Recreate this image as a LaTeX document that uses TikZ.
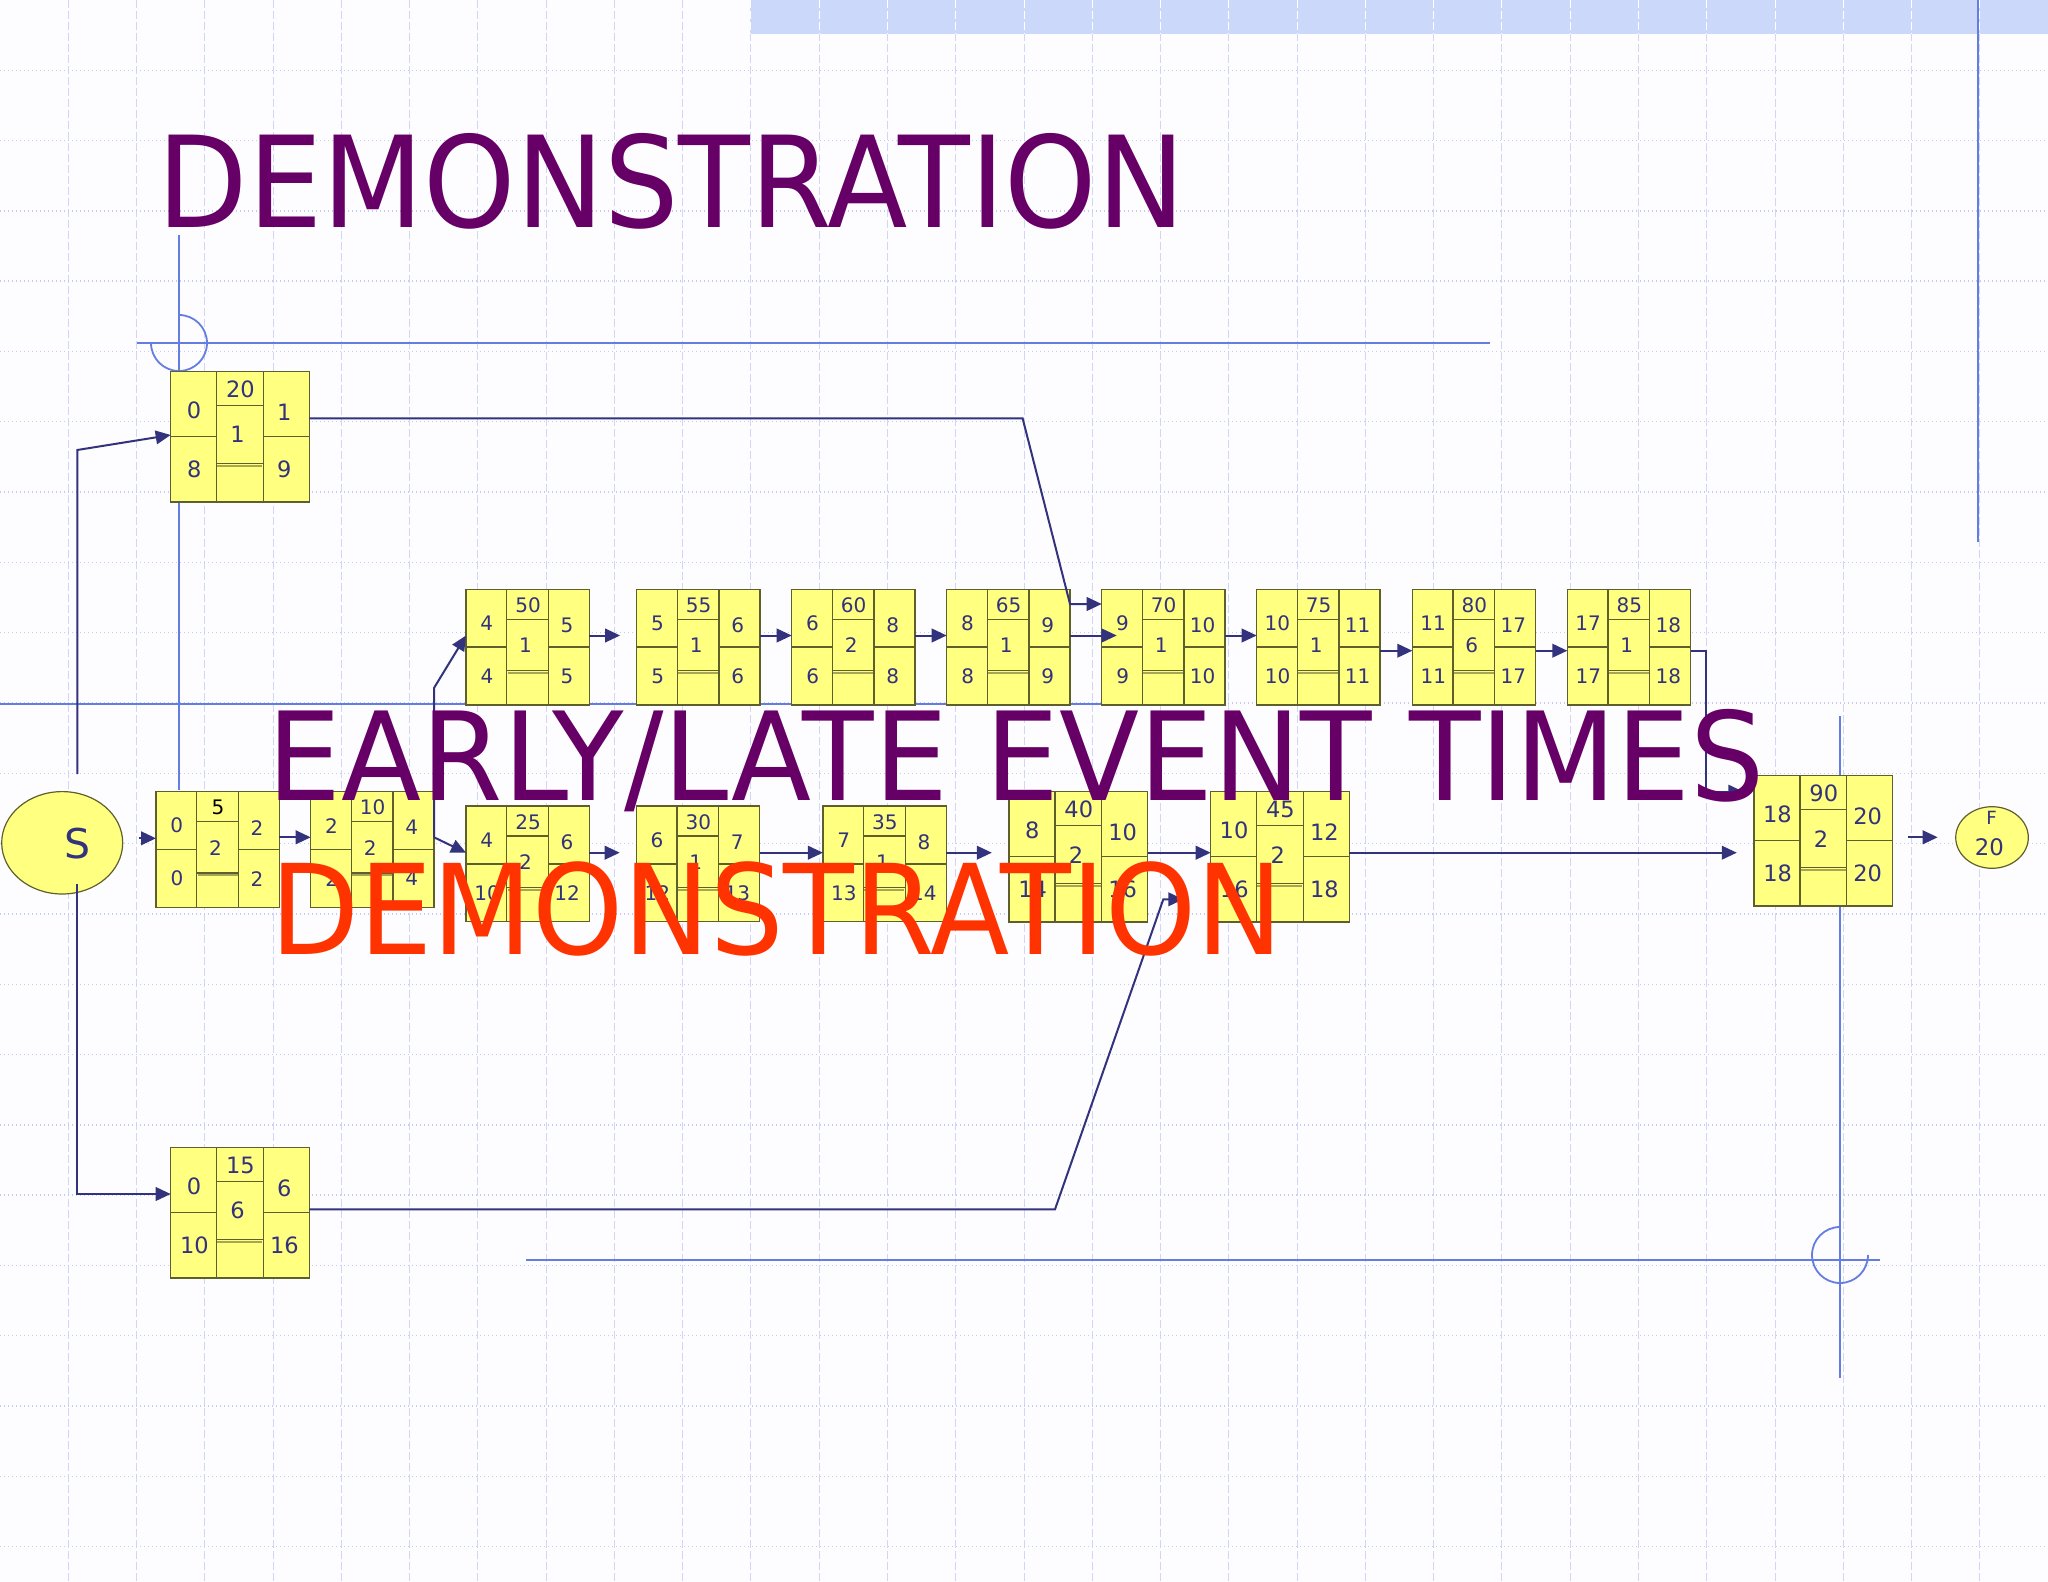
\documentclass[tikz,border=0pt]{standalone}
\usepackage{fontspec}
\setmainfont{DejaVu Sans}
\usepackage{graphicx}
\usetikzlibrary{arrows.meta,shapes.geometric}
\definecolor{bgc}{RGB}{253,253,255}
\definecolor{bandc}{RGB}{204,216,250}
\definecolor{gridc}{RGB}{196,202,240}
\definecolor{vgridc}{RGB}{210,214,246}
\definecolor{tmplblue}{RGB}{100,125,225}
\definecolor{boxfill}{RGB}{255,255,128}
\definecolor{boxline}{RGB}{95,95,45}
\definecolor{shadowc}{RGB}{165,165,85}
\definecolor{navy}{RGB}{50,50,125}
\definecolor{purp}{RGB}{102,0,102}
\definecolor{redc}{RGB}{255,51,0}
\tikzset{
  boxnode/.style={draw=boxline,fill=boxfill,line width=0.7pt,inner sep=0pt,outer sep=0pt},
  cellline/.style={draw=boxline,line width=0.7pt},
  shadowline/.style={draw=shadowc,line width=0.9pt},
  num/.style={text=navy,inner sep=0pt,anchor=center},
  ell/.style={ellipse,draw=boxline,fill=boxfill,line width=0.6pt,inner sep=0pt,outer sep=0pt},
  arr/.style={draw=navy,line width=1pt,-{Triangle[length=7.5pt,width=6.8pt]}},
  tmpl/.style={draw=tmplblue,line width=0.9pt},
  vgrid/.style={draw=vgridc,line width=0.5pt,dash pattern=on 4pt off 1.5pt},
  hgrid/.style={draw=gridc,line width=0.7pt,dash pattern=on 0.7pt off 1.3pt},
  bigtext/.style={anchor=base west,inner sep=0pt}
}
% #1 name, #2 top-left "x,y", #3 scale, #4 LT, #5 LB, #6 top, #7 mid, #8 RT, #9 RB
\newcommand\pbox[9]{%
  \pgfmathsetmacro\pbw{61.65*#3}%
  \pgfmathsetmacro\pbh{57.85*#3}%
  \pgfmathsetmacro\pbf{10*#3}%
  \begin{scope}[shift={(#2)},scale=#3]
    \node[boxnode,anchor=north west,minimum width=\pbw pt,minimum height=\pbh pt] (#1) at (0,0) {};
    \draw[cellline] (40.7,0) -- (40.7,115.7) (82.3,0) -- (82.3,115.7)
      (0,57.85) -- (40.7,57.85) (82.3,57.85) -- (123.3,57.85)
      (40.7,30) -- (82.3,30) (40.7,81.4) -- (82.3,81.4);
    \draw[shadowline] (41.5,83.6) -- (81.5,83.6);
    \begin{scope}[every node/.style={num,font=\fontsize{\pbf pt}{\pbf pt}\selectfont}]
      \node at (20.7,34) {#4};
      \node at (21,87) {#5};
      \node at (62,16) {#6};
      \node at (59.5,56) {#7};
      \node at (101,36) {#8};
      \node at (101,87) {#9};
    \end{scope}
  \end{scope}}
\begin{document}
\begin{tikzpicture}[x=0.5pt,y=-0.5pt]
\useasboundingbox (0,0) rectangle (2048,1582);
% background and grid
\fill[bgc] (0,0) rectangle (2048,1582);
\fill[bandc] (750,0) rectangle (2048,34);
\foreach \i in {1,...,29} \draw[vgrid] ({68.27*\i},0) -- ({68.27*\i},1582);
\foreach \i in {11,...,29} \draw[vgrid,draw=white] ({68.27*\i},0) -- ({68.27*\i},34);
\foreach \i in {1,...,22} \draw[hgrid] (0,{70.3*\i}) -- (2048,{70.3*\i});
% template lines and marks
\draw[tmpl] (137,343) -- (1490,343);
\draw[tmpl] (179,235) -- (179,790);
\draw[tmpl] (179,315) arc[start angle=-90,end angle=180,radius=28];
\draw[tmpl] (0,704) -- (1110,704);
\draw[tmpl] (1978,0) -- (1978,542);
\draw[tmpl] (1840,716) -- (1840,1378);
\draw[tmpl] (526,1260) -- (1880,1260);
\draw[tmpl] (1868,1255) arc[start angle=0,end angle=270,radius=28];
% start / finish
\node[ell,minimum width=60.5pt,minimum height=51.2pt] (S) at (62.2,842.8) {};
\node[text=navy,inner sep=0pt,font=\fontsize{20.5pt}{20pt}\selectfont] (Slabel) at (78,843.3) {S};
\node[ell,minimum width=36.3pt,minimum height=30.8pt] (F) at (1992,837.5) {};
\node[text=navy,inner sep=0pt,font=\fontsize{9.1pt}{9pt}\selectfont] (Flabel) at (1991.7,818.3) {F};
\node[text=navy,inner sep=0pt,font=\fontsize{11.4pt}{11pt}\selectfont] (Fnum) at (1989.3,846.7) {20};
% activity boxes
\pbox{NA}{170.7,371.7}{1.125}{0}{8}{20}{1}{1}{9}
\pbox{N15}{170.7,1147.7}{1.125}{0}{10}{15}{6}{6}{16}
\pbox{N50}{466,589.3}{1}{4}{4}{50}{1}{5}{5}
\pbox{N55}{636.7,589.3}{1}{5}{5}{55}{1}{6}{6}
\pbox{N60}{791.7,589.3}{1}{6}{6}{60}{2}{8}{8}
\pbox{N65}{946.7,589.3}{1}{8}{8}{65}{1}{9}{9}
\pbox{N70}{1101.7,589.3}{1}{9}{9}{70}{1}{10}{10}
\pbox{N75}{1256.7,589.3}{1}{10}{10}{75}{1}{11}{11}
\pbox{N80}{1412.3,589.3}{1}{11}{11}{80}{6}{17}{17}
\pbox{N85}{1567.3,589.3}{1}{17}{17}{85}{1}{18}{18}
\pbox{N5}{156,791.7}{1}{0}{0}{{\color{black}5}}{2}{2}{2}
\pbox{N10}{310.7,791.7}{1}{2}{2}{10}{2}{4}{4}
\pbox{N25}{466,806}{1}{4}{10}{25}{2}{6}{12}
\pbox{N30}{636.3,806}{1}{6}{12}{30}{1}{7}{13}
\pbox{N35}{822.9,806}{1}{7}{13}{35}{1}{8}{14}
\pbox{N40}{1009,791.7}{1.125}{8}{14}{40}{2}{10}{16}
\pbox{N45}{1210.7,791.7}{1.125}{10}{16}{45}{2}{12}{18}
\pbox{N90}{1754,775.7}{1.125}{18}{18}{90}{2}{20}{20}
% helper coordinates
\coordinate (r1) at (0,837.3);
\coordinate (r2) at (0,852.7);
\coordinate (t1) at (0,635.5);
\coordinate (t2) at (0,650.7);
\coordinate (sIn) at (139,838.3);
\coordinate (sUp) at (77.3,774);
\coordinate (sUpT) at (77.3,450);
\coordinate (aIn) at (0,435);
\coordinate (sDn) at (77.3,884);
\coordinate (sDnT) at (77.3,1194);
\coordinate (aOut) at (0,418.3);
\coordinate (aK1) at (1022.6,418.3);
\coordinate (aK2) at (1070,604);
\coordinate (bOut) at (0,1209.3);
\coordinate (bK1) at (1055,1209.3);
\coordinate (bK2) at (1163.3,899.3);
\coordinate (bEnd) at (1183.3,899.3);
\coordinate (uK) at (0,688);
\coordinate (kA) at (1706,650.7);
\coordinate (kB) at (1706,791.7);
% connectors
\draw[arr] (sIn) -- (sIn -| N5.west);
\draw[arr] (N5.east |- r1) -- (N10.west |- r1);
\draw[arr] (N10.east |- r1) -- (N25.west |- r2);
\draw[arr] (N10.east |- r1) -- (N10.east |- uK) -- (N50.west |- t1);
\draw[arr,shorten >=8.3pt] (N25.east |- r2) -- (N30.west |- r2);
\draw[arr] (N30.east |- r2) -- (N35.west |- r2);
\draw[arr,shorten >=8.6pt] (N35.east |- r2) -- (N40.west |- r2);
\draw[arr] (N40.east |- r2) -- (N45.west |- r2);
\draw[arr,shorten >=8.6pt] (N45.east |- r2) -- (N90.west |- r2);
\draw[arr,shorten <=7.6pt,shorten >=9pt] (N90.east |- r1) -- (F.west |- r1);
\draw[arr,shorten >=8.3pt] (N50.east |- t1) -- (N55.west |- t1);
\draw[arr] (N55.east |- t1) -- (N60.west |- t1);
\draw[arr] (N60.east |- t1) -- (N65.west |- t1);
\draw[arr,shorten >=-7.5pt] (N65.east |- t1) -- (N70.west |- t1);
\draw[arr] (N70.east |- t1) -- (N75.west |- t1);
\draw[arr] (N75.east |- t2) -- (N80.west |- t2);
\draw[arr] (N80.east |- t2) -- (N85.west |- t2);
\draw[arr,shorten >=5.3pt] (N85.east |- kA) -- (kA) -- (kB) -- (kB -| N90.west);
\draw[arr] (sUp) -- (sUpT) -- (NA.west |- aIn);
\draw[arr] (sDn) -- (sDnT) -- (sDnT -| N15.west);
\draw[arr] (NA.east |- aOut) -- (aK1) -- (aK2) -- (aK2 -| N70.west);
\draw[arr] (N15.east |- bOut) -- (bK1) -- (bK2) -- (bEnd);
% titles
\node[bigtext,text=purp,font=\fontsize{58.7pt}{60pt}\selectfont] (title) at (157.5,228) {\scalebox{1}[1.08]{DEMONSTRATION}};
\node[bigtext,text=purp,font=\fontsize{58.5pt}{60pt}\selectfont] (subtitle) at (267.5,800) {\scalebox{1}[1.05]{EARLY/LATE EVENT TIMES}};
\node[bigtext,text=redc,font=\fontsize{57.9pt}{60pt}\selectfont] (demo) at (270,954) {\scalebox{1}[1.08]{DEMONSTRATION}};
\end{tikzpicture}
\end{document}
